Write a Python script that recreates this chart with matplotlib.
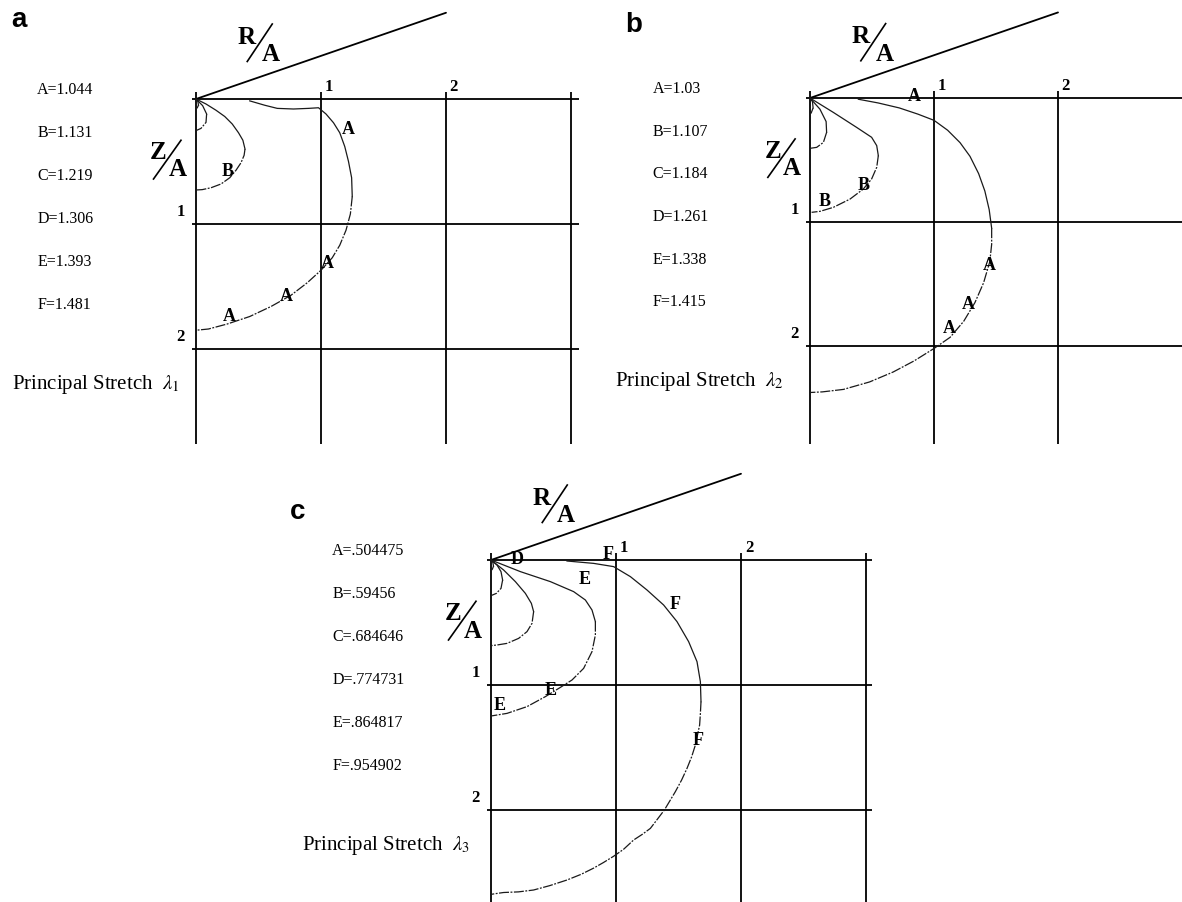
# -*- coding: utf-8 -*-
"""
Principal stretch contours over the R/A - Z/A quarter plane
"""

import matplotlib
matplotlib.use('Agg')
import matplotlib.pyplot as plt
import numpy as np

plt.rcParams['font.family'] = 'serif'
plt.rcParams['font.serif'] = ['Liberation Serif', 'DejaVu Serif']
plt.rcParams['mathtext.fontset'] = 'stix'

W, H = 1182, 903

# contour levels for each stretch
levels_1 = ['A=1.044', 'B=1.131', 'C=1.219', 'D=1.306', 'E=1.393', 'F=1.481']
levels_2 = ['A=1.03', 'B=1.107', 'C=1.184', 'D=1.261', 'E=1.338', 'F=1.415']
levels_3 = ['A=.504475', 'B=.59456', 'C=.684646', 'D=.774731', 'E=.864817', 'F=.954902']

# contour traces (R/A, Z/A), Z/A measured downwards
lam1_tiny = np.array([(0, 0), (0.015, 0.02), (0.02, 0.05), (0.01, 0.07), (0, 0.08)])
lam1_small = np.array([(0, 0), (0.053, 0.053), (0.085, 0.12), (0.08, 0.187), (0.04, 0.235), (0, 0.253)])
lam1_B = np.array([(0, 0), (0.08, 0.04), (0.16, 0.09), (0.23, 0.14), (0.29, 0.20), (0.34, 0.27),
                   (0.375, 0.33), (0.392, 0.40), (0.385, 0.45), (0.36, 0.51), (0.32, 0.57),
                   (0.27, 0.63), (0.20, 0.68), (0.12, 0.71), (0.05, 0.725), (0, 0.728)])
lam1_A = np.array([(0.43, 0.015), (0.55, 0.05), (0.65, 0.075), (0.78, 0.08), (0.90, 0.075),
                   (0.98, 0.07), (1.04, 0.12), (1.10, 0.19), (1.15, 0.27), (1.19, 0.38),
                   (1.22, 0.50), (1.245, 0.63), (1.25, 0.78), (1.235, 0.92), (1.20, 1.05),
                   (1.15, 1.17), (1.09, 1.27), (1.0, 1.37), (0.89, 1.47), (0.76, 1.57),
                   (0.60, 1.66), (0.43, 1.74), (0.25, 1.80), (0.10, 1.84), (0, 1.85)])

lam2_tiny = np.array([(0, 0), (0.02, 0.03), (0.025, 0.08), (0.01, 0.12), (0, 0.13)])
lam2_small = np.array([(0, 0), (0.08, 0.09), (0.13, 0.19), (0.134, 0.277), (0.108, 0.358),
                       (0.054, 0.398), (0, 0.406)])
lam2_B = np.array([(0, 0), (0.188, 0.116), (0.376, 0.237), (0.497, 0.317), (0.538, 0.384),
                   (0.551, 0.465), (0.538, 0.559), (0.497, 0.653), (0.430, 0.734),
                   (0.323, 0.815), (0.188, 0.882), (0.081, 0.914), (0.013, 0.922)])
lam2_A = np.array([(0.39, 0.01), (0.55, 0.04), (0.72, 0.08), (0.87, 0.13), (1.0, 0.18),
                   (1.11, 0.26), (1.21, 0.36), (1.29, 0.47), (1.36, 0.61), (1.41, 0.75),
                   (1.445, 0.90), (1.465, 1.05), (1.465, 1.18), (1.45, 1.32), (1.40, 1.49),
                   (1.33, 1.65), (1.24, 1.80), (1.13, 1.93), (1.0, 2.02), (0.84, 2.12),
                   (0.67, 2.21), (0.48, 2.29), (0.27, 2.35), (0.10, 2.37), (0, 2.375)])

lam3_tiny = np.array([(0, 0), (0.015, 0.02), (0.02, 0.05), (0.01, 0.075), (0, 0.085)])
lam3_small = np.array([(0, 0), (0.048, 0.04), (0.08, 0.093), (0.093, 0.16), (0.08, 0.227),
                       (0.043, 0.267), (0, 0.285)])
lam3_mid = np.array([(0, 0), (0.101, 0.08), (0.195, 0.173), (0.275, 0.267), (0.323, 0.347),
                     (0.341, 0.413), (0.328, 0.507), (0.288, 0.573), (0.221, 0.627),
                     (0.128, 0.667), (0.048, 0.68), (0, 0.685)])
lam3_E = np.array([(0, 0), (0.235, 0.093), (0.475, 0.173), (0.661, 0.253), (0.755, 0.32),
                   (0.808, 0.4), (0.835, 0.493), (0.835, 0.6), (0.808, 0.733), (0.741, 0.867),
                   (0.648, 0.96), (0.555, 1.019), (0.435, 1.093), (0.288, 1.173),
                   (0.128, 1.227), (0, 1.248)])
lam3_F = np.array([(0.608, 0.008), (0.821, 0.027), (0.981, 0.053), (1.115, 0.133),
                   (1.248, 0.24), (1.381, 0.36), (1.488, 0.493), (1.581, 0.653),
                   (1.648, 0.813), (1.675, 0.973), (1.68, 1.133), (1.675, 1.23), (1.669, 1.32),
                   (1.635, 1.48), (1.605, 1.575), (1.568, 1.667), (1.525, 1.76), (1.475, 1.853),
                   (1.387, 2.0), (1.33, 2.075), (1.275, 2.147), (1.21, 2.195), (1.141, 2.24),
                   (1.06, 2.315), (0.981, 2.37), (0.9, 2.42), (0.821, 2.465), (0.72, 2.515),
                   (0.608, 2.56), (0.47, 2.605), (0.341, 2.64), (0.22, 2.655), (0.101, 2.66),
                   (0.03, 2.67), (0, 2.675)])

# inline contour labels: (letter, R/A, Z/A)
tags_1 = [('A', 1.22, 0.24), ('A', 1.05, 1.31), ('A', 0.72, 1.57), ('A', 0.27, 1.73),
          ('B', 0.256, 0.573)]
tags_2 = [('A', 0.84, -0.02), ('A', 1.45, 1.34), ('A', 1.28, 1.66), ('A', 1.12, 1.85),
          ('B', 0.43, 0.694), ('B', 0.121, 0.828)]
tags_3 = [('D', 0.208, -0.008), ('E', 0.747, 0.147), ('E', 0.48, 1.04), ('E', 0.069, 1.155),
          ('F', 0.941, -0.053), ('F', 1.475, 0.347), ('F', 1.661, 1.44)]

ticks = [1, 2]

DASHDOT = (0, (8, 1.2, 1.5, 1.2))


def make_panel(fig, box, origin, unit):
    """axes in grid units; box and origin in figure pixels (from top-left)"""
    x0, y0, x1, y1 = box
    ox, oy = origin
    ax = fig.add_axes([x0 / W, 1 - y1 / H, (x1 - x0) / W, (y1 - y0) / H])
    ax.set_xlim((x0 - ox) / unit, (x1 - ox) / unit)
    ax.set_ylim((y1 - oy) / unit, (y0 - oy) / unit)
    ax.axis('off')
    return ax


def draw_curve(ax, c):
    # upper branch solid, the return branch (past the widest point) dash-dotted
    k = int(np.argmax(c[:, 0]))
    ax.plot(c[:k + 1, 0], c[:k + 1, 1], color='#1a1a1a', lw=0.9)
    ax.plot(c[k:, 0], c[k:, 1], color='#1a1a1a', lw=0.9, linestyle=DASHDOT)


def draw_panel(ax, letter, letter_xy, levels, curves, tags, lam_idx, lam_x,
               n_vert, y_bottom, x_right):
    # grid
    ax.vlines(range(n_vert), -0.06, y_bottom, color='black', lw=1.3)
    ax.hlines([0] + ticks, -0.03, x_right, color='black', lw=1.3)
    # the third, receding axis
    ax.plot([0, 2.0], [0, -0.69], color='black', lw=1.3, solid_capstyle='round')

    for t in ticks:
        ax.text(t + 0.03, -0.04, str(t), fontsize=12, fontweight='bold', ha='left', va='bottom')
        ax.text(-0.09, t - 0.04, str(t), fontsize=12, fontweight='bold', ha='right', va='bottom')

    # R/A and Z/A axis names
    ax.text(0.405, -0.50, 'R', fontsize=18, fontweight='bold', ha='center', va='center')
    ax.plot([0.41, 0.61], [-0.30, -0.60], color='black', lw=1.2, clip_on=False)
    ax.text(0.60, -0.36, 'A', fontsize=18, fontweight='bold', ha='center', va='center')
    ax.text(-0.30, 0.42, 'Z', fontsize=18, fontweight='bold', ha='center', va='center')
    ax.plot([-0.34, -0.12], [0.64, 0.33], color='black', lw=1.2, clip_on=False)
    ax.text(-0.147, 0.56, 'A', fontsize=18, fontweight='bold', ha='center', va='center')

    for c in curves:
        draw_curve(ax, c)

    for name, tx, ty in tags:
        ax.text(tx, ty, name, fontsize=13, fontweight='bold', ha='center', va='center')

    for i, s in enumerate(levels):
        ax.text(-1.27, -0.08 + 0.344 * i, s, fontsize=11.5, ha='left', va='center')

    ax.text(lam_x, 2.28, r'Principal Stretch  $\lambda_{%d}$' % lam_idx, fontsize=15,
            ha='left', va='center')

    ax.figure.text(letter_xy[0] / W, 1 - letter_xy[1] / H, letter, fontsize=20,
                   fontweight='bold', family='Liberation Sans', ha='center', va='center')


fig = plt.figure(figsize=(W / 100, H / 100), dpi=100)

ax_a = make_panel(fig, (0, 0, 600, 450), (196, 100), 125)
draw_panel(ax_a, 'a', (19, 20), levels_1, [lam1_tiny, lam1_small, lam1_B, lam1_A], tags_1,
           1, -1.47, 4, 2.76, 3.06)

ax_b = make_panel(fig, (600, 0, 1182, 450), (810, 99), 124)
draw_panel(ax_b, 'b', (634, 25), levels_2, [lam2_tiny, lam2_small, lam2_B, lam2_A], tags_2,
           2, -1.57, 3, 2.79, 3.2)

ax_c = make_panel(fig, (280, 460, 900, 903), (491, 561), 125)
draw_panel(ax_c, 'c', (298, 512), levels_3,
           [lam3_tiny, lam3_small, lam3_mid, lam3_E, lam3_F], tags_3, 3, -1.51, 4, 2.8, 3.05)

plt.savefig('out.png', dpi=100)
